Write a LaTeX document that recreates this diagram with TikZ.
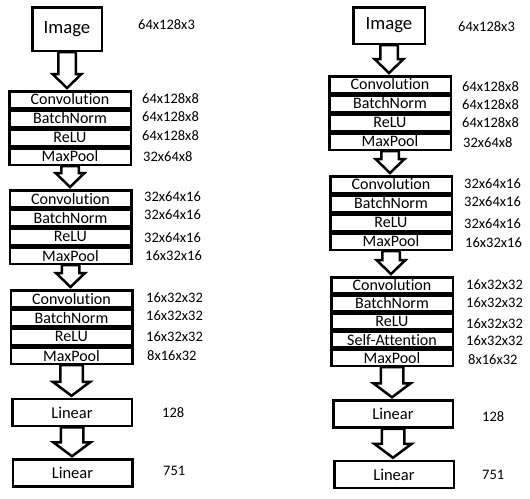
\documentclass[tikz,border=0pt]{standalone}
\usepackage{fontspec}
\setmainfont{Carlito}[Ligatures=CommonOff]
\usetikzlibrary{positioning,calc}

% hollow block arrow: from, to, shaft half width, head half width
\newcommand{\hollowarrow}[4]{%
  \draw[line width=2.5pt, line join=miter] let \p1=(#1.south), \p2=(#2.north) in
    (\x1-#3,\y1) -- (\x1+#3,\y1) -- (\x1+#3,\y2+16) -- (\x1+#4,\y2+16)
    -- (\x1,\y2+2) -- (\x1-#4,\y2+16) -- (\x1-#3,\y2+16) -- cycle;}

\begin{document}
\begin{tikzpicture}[x=1pt, y=-1pt,
            layer/.style={draw, line width=2.5pt, minimum width=121.5pt, minimum height=16.5pt, inner sep=0pt, font=\fontsize{16}{17}\selectfont},
            block/.style={draw, line width=2.5pt, minimum width=119.5pt, minimum height=27pt, inner sep=0pt, font=\fontsize{16.5}{18}\selectfont},
            input/.style={draw, line width=2.5pt, inner sep=0pt, font=\fontsize{18.7}{20}\selectfont},
            dims/.style={anchor=west, inner sep=0pt, font=\fontsize{14.5}{16}\selectfont}
        ]
        \useasboundingbox (0,0) rectangle (530,498);

        % Left diagram - plain CNN
        \node[input, minimum width=69.5pt, minimum height=43.5pt] (imgL) at (67,29) {Image};
        \node[dims] (imgLd) at (138,25) {64x128x3};

        \node[layer] (convL1) at (70,99.5) {Convolution};
        \node[layer, below=0pt of convL1] (bnL1) {BatchNorm};
        \node[layer, below=0pt of bnL1] (reluL1) {ReLU};
        \node[layer, below=0pt of reluL1] (poolL1) {MaxPool};
        \node[dims] (convL1d) at (142,99) {64x128x8};
        \node[dims] (bnL1d) at (142,117) {64x128x8};
        \node[dims] (reluL1d) at (142,136) {64x128x8};
        \node[dims] (poolL1d) at (143,157) {32x64x8};

        \node[layer] (convL2) at (70.5,198.5) {Convolution};
        \node[layer, below=0pt of convL2] (bnL2) {BatchNorm};
        \node[layer, below=0pt of bnL2] (reluL2) {ReLU};
        \node[layer, below=0pt of reluL2] (poolL2) {MaxPool};
        \node[dims] (convL2d) at (144,197) {32x64x16};
        \node[dims] (bnL2d) at (144,215) {32x64x16};
        \node[dims] (reluL2d) at (144,238) {32x64x16};
        \node[dims] (poolL2d) at (145,256) {16x32x16};

        \node[layer] (convL3) at (71.5,298.5) {Convolution};
        \node[layer, below=0pt of convL3] (bnL3) {BatchNorm};
        \node[layer, below=0pt of bnL3] (reluL3) {ReLU};
        \node[layer, below=0pt of reluL3] (poolL3) {MaxPool};
        \node[dims] (convL3d) at (146,298) {16x32x32};
        \node[dims] (bnL3d) at (146,316) {16x32x32};
        \node[dims] (reluL3d) at (146,337) {16x32x32};
        \node[dims] (poolL3d) at (147,356) {8x16x32};

        \node[block] (linL1) at (72,412.5) {Linear};
        \node[block] (linL2) at (72.5,473) {Linear};
        \node[dims] (linL1d) at (162,413) {128};
        \node[dims] (linL2d) at (163,471) {751};

        \hollowarrow{imgL}{convL1}{8.75}{14.5}
        \hollowarrow{poolL1}{convL2}{8.75}{14.5}
        \hollowarrow{poolL2}{convL3}{8.75}{14.5}
        \hollowarrow{poolL3}{linL1}{11.25}{18.75}
        \hollowarrow{linL1}{linL2}{11.25}{18.75}

        % Right diagram - with self-attention
        \node[input, minimum width=71.5pt, minimum height=36.5pt] (imgR) at (389,25.5) {Image};
        \node[dims] (imgRd) at (458,27) {64x128x3};

        \node[layer] (convR1) at (390,84.5) {Convolution};
        \node[layer, below=0pt of convR1] (bnR1) {BatchNorm};
        \node[layer, below=0pt of bnR1] (reluR1) {ReLU};
        \node[layer, below=0pt of reluR1] (poolR1) {MaxPool};
        \node[dims] (convR1d) at (462,87) {64x128x8};
        \node[dims] (bnR1d) at (462,105) {64x128x8};
        \node[dims] (reluR1d) at (462,123) {64x128x8};
        \node[dims] (poolR1d) at (463,143) {32x64x8};

        \node[layer] (convR2) at (391,184.5) {Convolution};
        \node[layer, below=0pt of convR2] (bnR2) {BatchNorm};
        \node[layer, below=0pt of bnR2] (reluR2) {ReLU};
        \node[layer, below=0pt of reluR2] (poolR2) {MaxPool};
        \node[dims] (convR2d) at (464,184) {32x64x16};
        \node[dims] (bnR2d) at (464,202) {32x64x16};
        \node[dims] (reluR2d) at (464,224) {32x64x16};
        \node[dims] (poolR2d) at (465,243) {16x32x16};

        \node[layer, minimum height=15.7pt] (convR3) at (392,285.1) {Convolution};
        \node[layer, minimum height=15.7pt, below=0pt of convR3] (bnR3) {BatchNorm};
        \node[layer, minimum height=15.7pt, below=0pt of bnR3] (reluR3) {ReLU};
        \node[layer, minimum height=15.7pt, below=0pt of reluR3] (attR3) {Self-Attention};
        \node[layer, minimum height=15.7pt, below=0pt of attR3] (poolR3) {MaxPool};
        \node[dims] (convR3d) at (466,285) {16x32x32};
        \node[dims] (bnR3d) at (466,303) {16x32x32};
        \node[dims] (reluR3d) at (466,324) {16x32x32};
        \node[dims] (attR3d) at (466,341) {16x32x32};
        \node[dims] (poolR3d) at (468,360) {8x16x32};

        \node[block] (linR1) at (393,414) {Linear};
        \node[block] (linR2) at (394,474.5) {Linear};
        \node[dims] (linR1d) at (482,417) {128};
        \node[dims] (linR2d) at (482,475) {751};

        \hollowarrow{imgR}{convR1}{8.75}{14.5}
        \hollowarrow{poolR1}{convR2}{8.75}{14.5}
        \hollowarrow{poolR2}{convR3}{8.75}{14.5}
        \hollowarrow{poolR3}{linR1}{11.25}{18.75}
        \hollowarrow{linR1}{linR2}{11.25}{18.75}
\end{tikzpicture}
\end{document}
